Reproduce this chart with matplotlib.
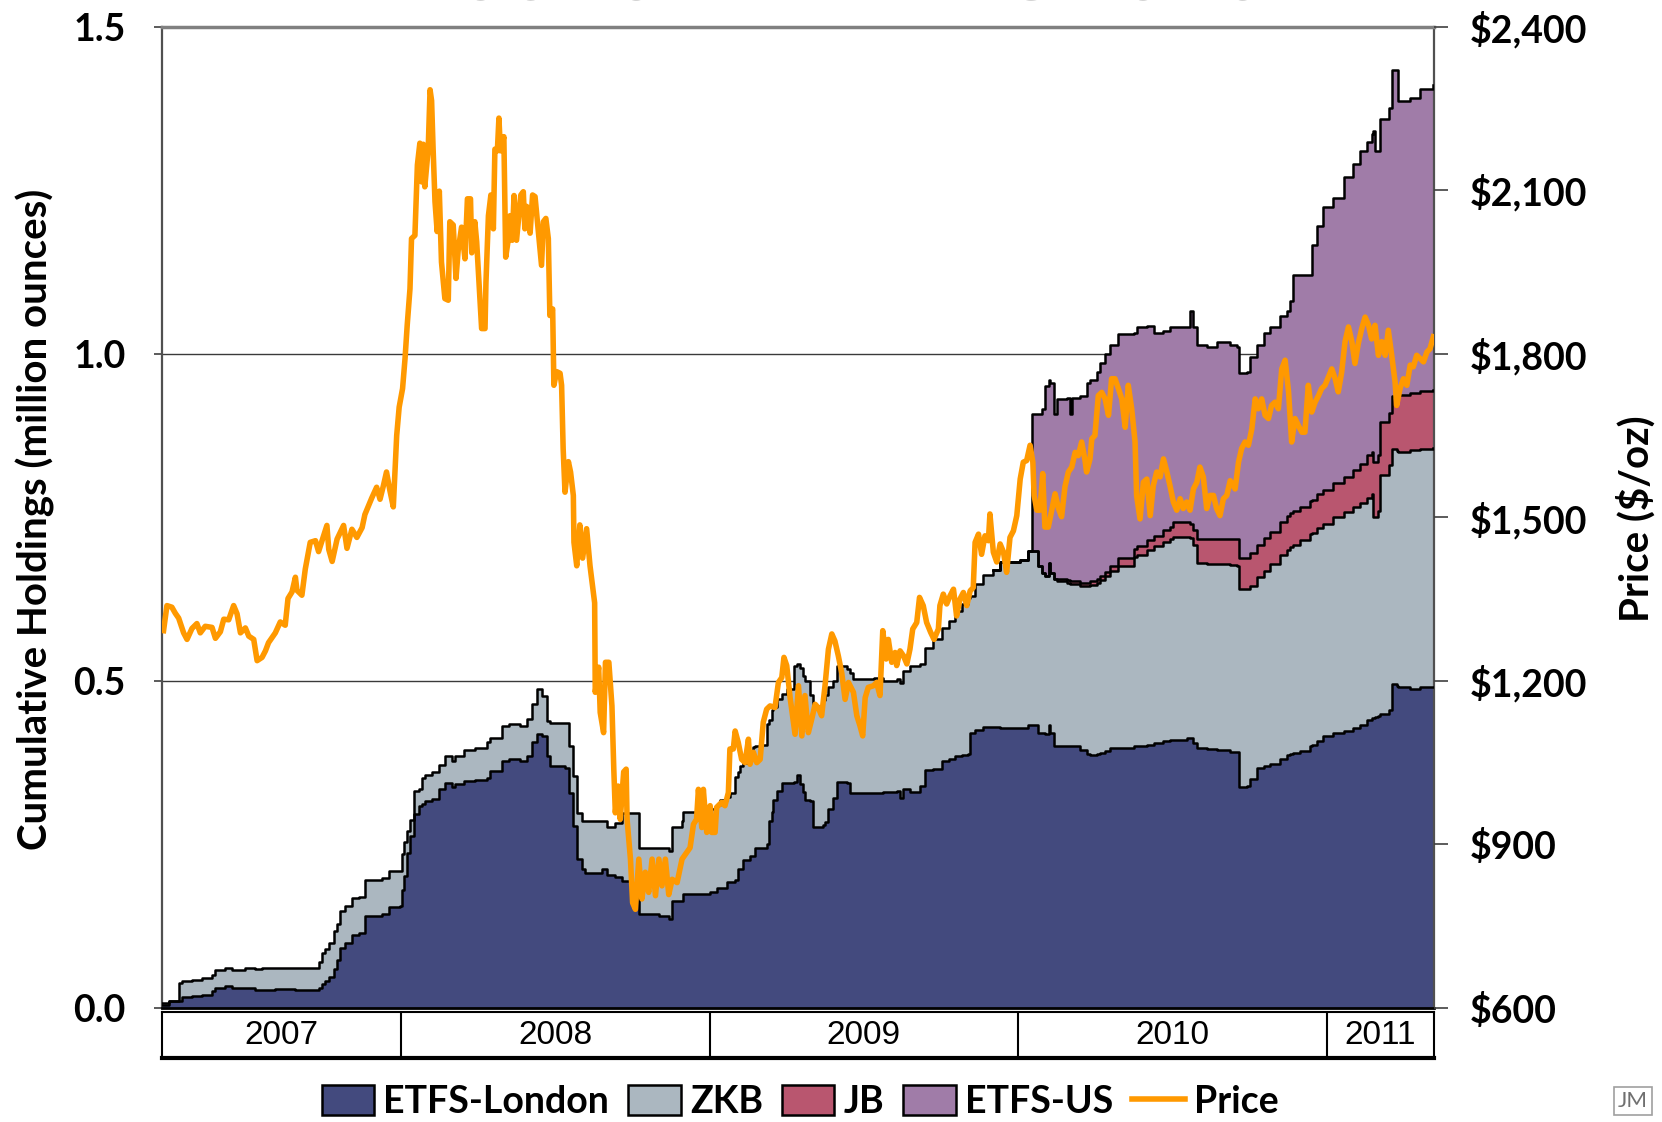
import numpy as np
import matplotlib; matplotlib.use("Agg")
import matplotlib.pyplot as plt
from matplotlib.patches import Patch
from matplotlib.lines import Line2D

NAVY = "#434a7e"; ZKBC = "#abb7c0"; JBC = "#b9566f"; USC = "#a07ca8"; ORG = "#ff9900"
FONT = ["Lato", "DejaVu Sans"]
plt.rcParams.update({"font.family": FONT, "font.weight": "bold"})

# holdings (million oz), time in fractional years
hold_t = [2007.227, 2007.249, 2007.281, 2007.292, 2007.324, 2007.357, 2007.389, 2007.400, 2007.432, 2007.454,
          2007.497, 2007.529, 2007.551, 2007.594, 2007.659, 2007.724, 2007.734, 2007.745, 2007.756, 2007.767,
          2007.783, 2007.794, 2007.805, 2007.821, 2007.842, 2007.864, 2007.885, 2007.939, 2007.961, 2007.999,
          2008.004, 2008.010, 2008.020, 2008.031, 2008.042, 2008.058, 2008.069, 2008.080, 2008.101, 2008.123,
          2008.145, 2008.166, 2008.177, 2008.204, 2008.242, 2008.279, 2008.290, 2008.328, 2008.350, 2008.387,
          2008.409, 2008.425, 2008.441, 2008.458, 2008.474, 2008.485, 2008.533, 2008.544, 2008.557, 2008.571,
          2008.587, 2008.598, 2008.652, 2008.668, 2008.695, 2008.717, 2008.749, 2008.771, 2008.835, 2008.868,
          2008.879, 2008.911,
          2008.915, 2008.948, 2008.964, 2009.002, 2009.023, 2009.034, 2009.056, 2009.066, 2009.083, 2009.093,
          2009.099, 2009.110, 2009.131, 2009.142, 2009.147, 2009.169, 2009.185, 2009.191, 2009.201, 2009.207,
          2009.218, 2009.234, 2009.250, 2009.272, 2009.282, 2009.293, 2009.304, 2009.309, 2009.326, 2009.336,
          2009.369, 2009.374, 2009.385, 2009.401, 2009.412, 2009.444, 2009.455, 2009.466, 2009.531, 2009.563,
          2009.607, 2009.617, 2009.628, 2009.649, 2009.682, 2009.698, 2009.725, 2009.752, 2009.774, 2009.795,
          2009.817, 2009.838, 2009.844, 2009.860, 2009.887, 2009.919,
          2009.941, 2010.006, 2010.032, 2010.044, 2010.065, 2010.076, 2010.087, 2010.098, 2010.103, 2010.114,
          2010.125, 2010.157, 2010.168, 2010.173, 2010.200, 2010.222, 2010.232, 2010.254, 2010.265, 2010.281,
          2010.297, 2010.324, 2010.373, 2010.384, 2010.416, 2010.438, 2010.470, 2010.492, 2010.502, 2010.546,
          2010.556, 2010.567, 2010.578, 2010.610, 2010.643, 2010.686, 2010.707, 2010.713, 2010.740, 2010.751,
          2010.772, 2010.794, 2010.815, 2010.848, 2010.869, 2010.880, 2010.891, 2010.912, 2010.945, 2010.950,
          2010.967, 2010.988, 2011.020, 2011.053, 2011.085, 2011.107, 2011.128, 2011.145, 2011.150, 2011.155,
          2011.166, 2011.172, 2011.199, 2011.209, 2011.226, 2011.231, 2011.269, 2011.301, 2011.344]
london = [0.005, 0.010, 0.010, 0.017, 0.018, 0.020, 0.026, 0.031, 0.033, 0.030,
          0.030, 0.027, 0.027, 0.029, 0.027, 0.027, 0.031, 0.036, 0.041, 0.048,
          0.059, 0.074, 0.092, 0.099, 0.112, 0.115, 0.140, 0.143, 0.155, 0.156,
          0.180, 0.202, 0.237, 0.263, 0.296, 0.309, 0.312, 0.316, 0.319, 0.334,
          0.344, 0.337, 0.342, 0.347, 0.349, 0.352, 0.362, 0.378, 0.381, 0.378,
          0.385, 0.406, 0.418, 0.416, 0.385, 0.370, 0.367, 0.329, 0.278, 0.227,
          0.212, 0.207, 0.212, 0.204, 0.200, 0.194, 0.185, 0.143, 0.141, 0.136,
          0.163, 0.163,
          0.174, 0.174, 0.174, 0.177, 0.184, 0.184, 0.193, 0.193, 0.195, 0.212,
          0.212, 0.226, 0.233, 0.233, 0.244, 0.244, 0.251, 0.286, 0.300, 0.318,
          0.332, 0.344, 0.344, 0.346, 0.356, 0.343, 0.330, 0.318, 0.316, 0.276,
          0.279, 0.285, 0.304, 0.321, 0.346, 0.344, 0.328, 0.328, 0.328, 0.330,
          0.332, 0.321, 0.335, 0.330, 0.339, 0.363, 0.365, 0.378, 0.380, 0.385,
          0.386, 0.388, 0.420, 0.425, 0.429, 0.430,
          0.428, 0.428, 0.432, 0.432, 0.420, 0.420, 0.418, 0.432, 0.420, 0.401,
          0.401, 0.401, 0.401, 0.401, 0.395, 0.388, 0.386, 0.388, 0.390, 0.393,
          0.398, 0.398, 0.400, 0.400, 0.402, 0.405, 0.408, 0.410, 0.410, 0.412,
          0.412, 0.405, 0.397, 0.396, 0.394, 0.392, 0.392, 0.338, 0.340, 0.350,
          0.367, 0.370, 0.373, 0.380, 0.386, 0.388, 0.390, 0.393, 0.400, 0.402,
          0.408, 0.416, 0.420, 0.424, 0.428, 0.433, 0.440, 0.443, 0.443, 0.445,
          0.447, 0.450, 0.455, 0.495, 0.492, 0.490, 0.488, 0.490, 0.490]
zkb = [0.003, 0.000, 0.028, 0.024, 0.025, 0.026, 0.024, 0.027, 0.028, 0.028,
       0.031, 0.032, 0.034, 0.032, 0.034, 0.034, 0.039, 0.048, 0.049, 0.051,
       0.059, 0.054, 0.056, 0.057, 0.056, 0.055, 0.056, 0.056, 0.054, 0.053,
       0.055, 0.051, 0.033, 0.025, 0.036, 0.025, 0.040, 0.040, 0.041, 0.038,
       0.041, 0.041, 0.043, 0.048, 0.049, 0.054, 0.051, 0.053, 0.053, 0.053,
       0.056, 0.058, 0.069, 0.061, 0.054, 0.065, 0.068, 0.072, 0.077, 0.071,
       0.074, 0.079, 0.074, 0.072, 0.083, 0.104, 0.113, 0.102, 0.104, 0.104,
       0.113, 0.123,
       0.126, 0.126, 0.123, 0.127, 0.126, 0.134, 0.130, 0.135, 0.158, 0.148,
       0.158, 0.149, 0.157, 0.166, 0.156, 0.158, 0.183, 0.154, 0.155, 0.142,
       0.140, 0.136, 0.143, 0.176, 0.169, 0.177, 0.178, 0.182, 0.163, 0.186,
       0.191, 0.194, 0.186, 0.179, 0.176, 0.174, 0.184, 0.175, 0.177, 0.170,
       0.171, 0.176, 0.180, 0.192, 0.186, 0.187, 0.199, 0.203, 0.212, 0.221,
       0.231, 0.239, 0.210, 0.223, 0.233, 0.239,
       0.254, 0.257, 0.266, 0.266, 0.256, 0.245, 0.242, 0.248, 0.245, 0.254,
       0.251, 0.249, 0.247, 0.247, 0.250, 0.257, 0.261, 0.262, 0.264, 0.267,
       0.270, 0.278, 0.290, 0.293, 0.298, 0.301, 0.304, 0.306, 0.310, 0.308,
       0.306, 0.303, 0.283, 0.282, 0.284, 0.285, 0.283, 0.302, 0.300, 0.295,
       0.292, 0.298, 0.305, 0.312, 0.314, 0.317, 0.318, 0.322, 0.324, 0.324,
       0.325, 0.324, 0.330, 0.334, 0.338, 0.339, 0.340, 0.342, 0.307, 0.305,
       0.313, 0.365, 0.375, 0.360, 0.360, 0.360, 0.365, 0.365, 0.366]
# JB and ETFS-US only exist from end of 2009 (last 69 dates)
jb = [0, 0, 0, 0, 0, 0, 0, 0, 0, 0,
      0.003, 0.004, 0.004, 0.004, 0.005, 0.005, 0.005, 0.006, 0.006, 0.007,
      0.008, 0.012, 0.012, 0.013, 0.015, 0.016, 0.018, 0.019, 0.022, 0.022,
      0.022, 0.022, 0.036, 0.038, 0.039, 0.039, 0.041, 0.048, 0.048, 0.050,
      0.049, 0.050, 0.050, 0.050, 0.052, 0.051, 0.052, 0.051, 0.051, 0.051,
      0.052, 0.052, 0.052, 0.054, 0.056, 0.060, 0.065, 0.065, 0.085, 0.085,
      0.085, 0.080, 0.080, 0.080, 0.085, 0.087, 0.087, 0.088, 0.089]
etfs_us = [0, 0, 0, 0.210, 0.232, 0.250, 0.290, 0.280, 0.290, 0.253,
           0.275, 0.278, 0.256, 0.280, 0.285, 0.305, 0.308, 0.316, 0.325, 0.333,
           0.337, 0.342, 0.330, 0.334, 0.327, 0.310, 0.305, 0.305, 0.298, 0.298,
           0.325, 0.310, 0.297, 0.294, 0.301, 0.297, 0.294, 0.282, 0.284, 0.300,
           0.305, 0.314, 0.312, 0.316, 0.313, 0.324, 0.360, 0.354, 0.345, 0.389,
           0.410, 0.432, 0.436, 0.458, 0.468, 0.478, 0.478, 0.485, 0.505, 0.475,
           0.465, 0.463, 0.466, 0.499, 0.497, 0.449, 0.450, 0.462, 0.465]

# platinum price ($/oz)
price_t = [2007.232, 2007.243, 2007.259, 2007.270, 2007.281, 2007.297, 2007.308, 2007.324, 2007.340, 2007.351,
           2007.367, 2007.389, 2007.400, 2007.416, 2007.427, 2007.443, 2007.459, 2007.470, 2007.481, 2007.497,
           2007.508, 2007.524, 2007.535, 2007.551, 2007.562, 2007.572, 2007.594, 2007.610, 2007.626, 2007.635,
           2007.648, 2007.659, 2007.664, 2007.680, 2007.691, 2007.707, 2007.724, 2007.734, 2007.751, 2007.761,
           2007.767, 2007.778, 2007.794, 2007.815, 2007.826, 2007.842, 2007.858, 2007.875,
           2007.884, 2007.906, 2007.922, 2007.933, 2007.944, 2007.954, 2007.965, 2007.976, 2007.987, 2007.995,
           2008.006, 2008.014, 2008.021, 2008.030, 2008.035, 2008.046, 2008.054, 2008.062, 2008.068, 2008.073,
           2008.078, 2008.089, 2008.095, 2008.100, 2008.105, 2008.111, 2008.118, 2008.125, 2008.132, 2008.143,
           2008.154, 2008.159, 2008.170, 2008.179, 2008.186, 2008.197, 2008.208, 2008.216, 2008.226, 2008.230,
           2008.240, 2008.246, 2008.251, 2008.262, 2008.273, 2008.276, 2008.284, 2008.292, 2008.300, 2008.305,
           2008.313, 2008.318, 2008.323, 2008.334, 2008.340, 2008.348, 2008.354, 2008.361, 2008.367, 2008.375,
           2008.389, 2008.397, 2008.402, 2008.408, 2008.419, 2008.427, 2008.435, 2008.445, 2008.456, 2008.462,
           2008.470, 2008.478, 2008.483, 2008.492, 2008.496, 2008.505, 2008.516, 2008.521, 2008.526, 2008.532,
           2008.543, 2008.550, 2008.559, 2008.561, 2008.570, 2008.580, 2008.589, 2008.602, 2008.613,
           2008.628, 2008.630, 2008.641, 2008.646, 2008.657, 2008.663, 2008.674, 2008.684, 2008.690, 2008.695,
           2008.704, 2008.711, 2008.722, 2008.730, 2008.733, 2008.744, 2008.751, 2008.760, 2008.771, 2008.781,
           2008.792, 2008.803, 2008.814, 2008.825, 2008.836, 2008.846, 2008.857, 2008.868, 2008.879, 2008.895,
           2008.911, 2008.937, 2008.948, 2008.958, 2008.964, 2008.975, 2008.980, 2008.991, 2009.002, 2009.007,
           2009.018, 2009.023, 2009.039, 2009.050, 2009.061, 2009.066, 2009.077, 2009.083, 2009.093, 2009.104,
           2009.115, 2009.126, 2009.131, 2009.142, 2009.153, 2009.164, 2009.174, 2009.185, 2009.196, 2009.212,
           2009.223, 2009.234, 2009.241, 2009.250, 2009.261, 2009.277, 2009.288, 2009.299, 2009.309, 2009.320,
           2009.331, 2009.342, 2009.352, 2009.363, 2009.374, 2009.385, 2009.396, 2009.406, 2009.417, 2009.428,
           2009.439, 2009.450, 2009.466, 2009.477, 2009.487, 2009.496, 2009.504, 2009.514, 2009.531, 2009.541,
           2009.552, 2009.561, 2009.572, 2009.579, 2009.590, 2009.601, 2009.606, 2009.617, 2009.628, 2009.639,
           2009.649, 2009.658, 2009.671, 2009.680, 2009.692, 2009.703, 2009.716, 2009.727, 2009.741, 2009.746,
           2009.757, 2009.768, 2009.779, 2009.790, 2009.800, 2009.811, 2009.822, 2009.833, 2009.844, 2009.854,
           2009.860, 2009.871, 2009.881, 2009.892, 2009.903, 2009.908, 2009.919, 2009.930, 2009.941, 2009.952,
           2009.962, 2009.973, 2009.984, 2009.995, 2010.006, 2010.016, 2010.027,
           2010.038, 2010.047, 2010.051, 2010.060, 2010.070, 2010.079, 2010.086, 2010.097, 2010.108, 2010.119,
           2010.130, 2010.140, 2010.151, 2010.162, 2010.173, 2010.184, 2010.194, 2010.205, 2010.216, 2010.221,
           2010.232, 2010.238, 2010.248, 2010.259, 2010.270, 2010.281, 2010.292, 2010.302, 2010.313, 2010.324,
           2010.335, 2010.346, 2010.356, 2010.367, 2010.378, 2010.383, 2010.394, 2010.405, 2010.416, 2010.427,
           2010.437, 2010.448, 2010.459, 2010.470, 2010.481, 2010.491, 2010.502, 2010.513, 2010.524, 2010.534,
           2010.545, 2010.556, 2010.567, 2010.578, 2010.588, 2010.599, 2010.610, 2010.621, 2010.632, 2010.642,
           2010.653, 2010.664, 2010.675, 2010.686, 2010.702, 2010.713, 2010.723, 2010.734, 2010.745, 2010.756,
           2010.767, 2010.777, 2010.788, 2010.799, 2010.810, 2010.820, 2010.831, 2010.842, 2010.853, 2010.864,
           2010.875, 2010.885, 2010.896, 2010.907, 2010.918, 2010.928, 2010.939, 2010.950, 2010.961, 2010.972,
           2010.982, 2010.993, 2011.004, 2011.015, 2011.026, 2011.036, 2011.047, 2011.058, 2011.069, 2011.080,
           2011.090, 2011.101, 2011.112, 2011.123, 2011.134, 2011.144, 2011.155, 2011.166, 2011.177, 2011.188,
           2011.198, 2011.209, 2011.220, 2011.225, 2011.236, 2011.247, 2011.258, 2011.269, 2011.279, 2011.290,
           2011.301, 2011.312, 2011.323, 2011.333, 2011.344]
price = [1292, 1338, 1335, 1324, 1315, 1288, 1276, 1296, 1305, 1288,
         1300, 1298, 1278, 1290, 1313, 1312, 1338, 1323, 1288, 1297,
         1282, 1276, 1237, 1243, 1255, 1270, 1288, 1308, 1302, 1351,
         1363, 1390, 1366, 1357, 1405, 1454, 1457, 1437, 1467, 1485,
         1441, 1419, 1460, 1485, 1443, 1478, 1463, 1481,
         1505, 1535, 1555, 1533, 1558, 1583, 1549, 1519, 1650, 1702,
         1736, 1791, 1852, 1919, 2011, 2017, 2146, 2186, 2115, 2184,
         2106, 2175, 2284, 2264, 2174, 2079, 2024, 2098, 1968, 1901,
         1898, 2042, 2036, 1938, 1989, 2032, 1974, 2084, 2084, 1985,
         2042, 2005, 1956, 1846, 1846, 1930, 2053, 2091, 2029, 2175,
         2172, 2232, 2172, 2198, 1977, 2008, 2053, 2008, 2090, 2008,
         2091, 2097, 2029, 2070, 2021, 2091, 2088, 2029, 1962, 2042,
         2048, 2011, 1870, 1882, 1742, 1767, 1764, 1742, 1626, 1546,
         1602, 1583, 1540, 1454, 1411, 1486, 1425, 1479, 1411,
         1343, 1179, 1225, 1142, 1105, 1234, 1234, 1154, 1038, 958,
         1007, 946, 1033, 1038, 946, 873, 793, 781, 873, 800,
         849, 812, 873, 806, 873, 824, 873, 808, 836, 830,
         873, 894, 937, 946, 1001, 931, 1001, 922, 971, 922,
         922, 968, 977, 971, 995, 1075, 1075, 1108, 1087, 1056,
         1050, 1093, 1047, 1069, 1050, 1056, 1124, 1148, 1154, 1151,
         1197, 1206, 1243, 1228, 1169, 1102, 1191, 1099, 1173, 1105,
         1130, 1157, 1151, 1136, 1191, 1258, 1286, 1273, 1246, 1215,
         1166, 1197, 1179, 1136, 1118, 1099, 1169, 1188, 1191, 1197,
         1173, 1292, 1240, 1276, 1234, 1252, 1228, 1255, 1246, 1231,
         1258, 1295, 1307, 1353, 1338, 1307, 1289, 1276, 1295, 1338,
         1359, 1341, 1356, 1368, 1319, 1350, 1362, 1338, 1365, 1371,
         1454, 1469, 1432, 1466, 1457, 1506, 1436, 1418, 1451, 1436,
         1399, 1463, 1475, 1503, 1570, 1601, 1604,
         1632, 1601, 1540, 1513, 1513, 1580, 1482, 1482, 1513, 1543,
         1516, 1501, 1556, 1583, 1592, 1619, 1613, 1638, 1604, 1583,
         1607, 1644, 1650, 1723, 1729, 1717, 1687, 1754, 1754, 1736,
         1717, 1665, 1742, 1699, 1638, 1540, 1497, 1564, 1570, 1503,
         1558, 1583, 1574, 1607, 1583, 1558, 1528, 1513, 1534, 1516,
         1528, 1513, 1552, 1564, 1592, 1574, 1516, 1540, 1540, 1516,
         1503, 1534, 1540, 1567, 1552, 1601, 1626, 1638, 1632, 1662,
         1717, 1699, 1717, 1687, 1681, 1705, 1711, 1699, 1772, 1788,
         1730, 1638, 1681, 1668, 1656, 1656, 1742, 1693, 1711, 1723,
         1736, 1742, 1757, 1772, 1754, 1730, 1766, 1822, 1849, 1822,
         1782, 1819, 1846, 1867, 1852, 1827, 1852, 1797, 1822, 1797,
         1843, 1797, 1748, 1705, 1736, 1754, 1742, 1779, 1776, 1797,
         1791, 1785, 1803, 1809, 1831]

years = ["2007", "2008", "2009", "2010", "2011"]
year_starts = [2008, 2009, 2010, 2011]
XMIN, XMAX = 2007.227, 2011.346

W, H = 1662, 1122
fig = plt.figure(figsize=(W / 100, H / 100), dpi=100)
ax = fig.add_axes([162 / W, 1 - 1008 / H, (1434 - 162) / W, (1008 - 26.5) / H])

t = np.array(hold_t)
pad = len(t) - len(jb)
layers = [np.array(london), np.array(zkb), np.r_[np.zeros(pad), jb], np.r_[np.zeros(pad), etfs_us]]
tops = np.cumsum(layers, axis=0)
lows = [np.zeros(len(t))] + list(tops[:-1])
for lo, hi, c in zip(lows, tops, [NAVY, ZKBC, JBC, USC]):
    ax.fill_between(t, lo, hi, step="post", facecolor=c, linewidth=0, zorder=2)
for i, hi in enumerate(tops):
    m = hi > 0.001 if i < 2 else np.r_[np.zeros(pad - 1, bool), np.ones(len(t) - pad + 1, bool)]
    ax.step(t[m], hi[m], where="post", color="black", lw=1.8, zorder=3)

ax.set_xlim(XMIN, XMAX); ax.set_ylim(0, 1.5)
ax.set_yticks([0, 0.5, 1.0, 1.5]); ax.set_yticklabels(["0.0", "0.5", "1.0", "1.5"], fontsize=27, fontweight="bold")
ax.set_xticks([])
ax.grid(axis="y", color="#3a3a3a", lw=1.0, zorder=0); ax.set_axisbelow(True)
ax.tick_params(axis="y", direction="out", length=6, width=1.2, pad=20, colors="#404040", labelcolor="black")
ax.spines["left"].set_color("#505050"); ax.spines["left"].set_linewidth(1.6)
ax.spines["right"].set_color("#505050"); ax.spines["right"].set_linewidth(1.6)
ax.spines["top"].set_color("#808080"); ax.spines["top"].set_linewidth(2.5)
ax.spines["bottom"].set_color("black"); ax.spines["bottom"].set_linewidth(2.0)

ax2 = ax.twinx()
ax2.plot(price_t, price, color=ORG, lw=4.0, zorder=5)
ax2.set_ylim(600, 2400)
ax2.set_yticks(range(600, 2401, 300))
ax2.set_yticklabels([f"${v:,}" for v in range(600, 2401, 300)], fontsize=27, fontweight="bold")
ax2.tick_params(axis="y", direction="out", length=10, width=1.2, pad=16, colors="#404040", labelcolor="black")
for s in ax2.spines.values(): s.set_visible(False)

fig.text(35 / W, 1 - 519 / H, "Cumulative Holdings (million ounces)", rotation=90, ha="center", va="center",
         fontsize=29, fontweight="bold")
fig.text(1636 / W, 1 - 519 / H, "Price ($/oz)", rotation=90, ha="center", va="center",
         fontsize=29, fontweight="bold")

# year band under the plot
axy = fig.add_axes([162 / W, 1 - 1058 / H, (1434 - 162) / W, 46 / H])
axy.set_xlim(XMIN, XMAX); axy.set_ylim(0, 1)
axy.set_xticks([]); axy.set_yticks([])
for s in ["top", "left", "right"]: axy.spines[s].set_linewidth(1.5)
axy.spines["bottom"].set_linewidth(3)
for x in year_starts:
    axy.axvline(x, color="black", lw=1.5)
edges = [XMIN] + year_starts + [XMAX]
for lab, a, b in zip(years, edges[:-1], edges[1:]):
    axy.text((a + b) / 2, 0.5, lab, ha="center", va="center", fontsize=24,
             family=["Liberation Sans", "DejaVu Sans"], fontweight="normal")

# title sits mostly above the canvas, only its foot shows
fig.text(0.5, 1.0, "Platinum ETF Demand", ha="center", va="baseline", fontsize=64,
         fontweight="bold", color="#a6a6a6")

handles = [Patch(facecolor=c, edgecolor="black", lw=1.8) for c in [NAVY, ZKBC, JBC, USC]]
handles.append(Line2D([0], [0], color=ORG, lw=4.0))
fig.legend(handles, ["ETFS-London", "ZKB", "JB", "ETFS-US", "Price"], loc="center",
           bbox_to_anchor=(800 / W, 1 - 1102 / H), ncol=5, frameon=False,
           handlelength=1.4, handleheight=0.85, handletextpad=0.25, columnspacing=0.5,
           prop={"weight": "bold", "size": 27, "family": FONT})

fig.text(1633 / W, 1 - 1101 / H, "JM", fontsize=16, color="#707070", ha="center", va="center", fontweight="normal",
         bbox=dict(boxstyle="square,pad=0.2", facecolor="white", edgecolor="#a0a0a0", lw=1.2))

fig.savefig("out.png", dpi=100)
